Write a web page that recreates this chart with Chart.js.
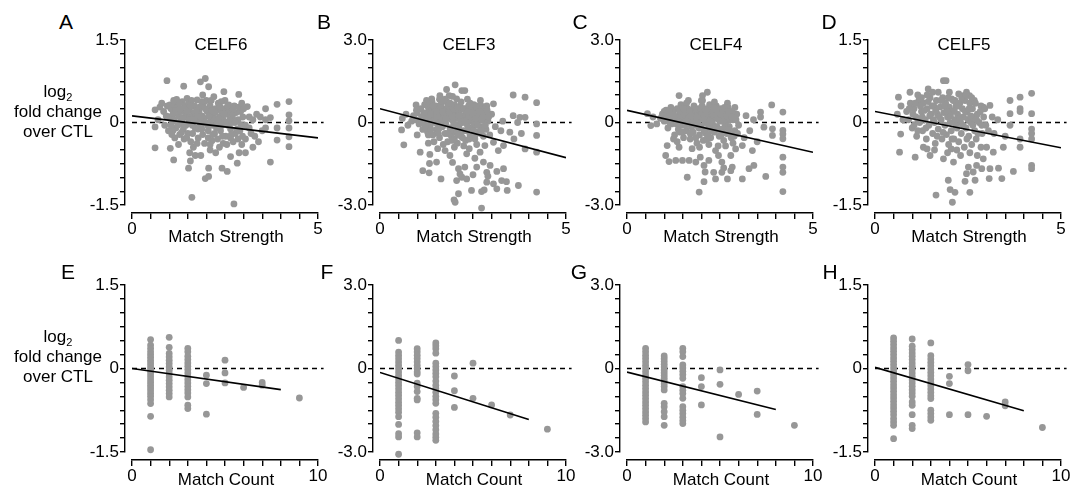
<!DOCTYPE html>
<html>
<head>
<meta charset="utf-8">
<script src="https://cdn.jsdelivr.net/npm/chart.js@4.4.1/dist/chart.umd.min.js"></script>
<style>
  body { margin: 0; background: #fff; font-family: "Liberation Sans", Arial, sans-serif; }
  #fig { position: relative; width: 1071px; height: 487px; overflow: hidden; background: #fff; }
  #fig canvas { position: absolute; }
  .txt { position: absolute; color: #000; white-space: nowrap; line-height: 1; transform: translate(-50%, -50%); }
  .ylab { position: absolute; color: #000; text-align: center; font-size: 17px; line-height: 20px; transform: translate(-50%, -50%); white-space: nowrap; }
  .ylab sub { font-size: 11px; line-height: 0; }
</style>
</head>
<body>
<div id="fig"></div>
<script>
const proteins = ['CELF6', 'CELF3', 'CELF4', 'CELF5'];
const topLetters = ['A', 'B', 'C', 'D'];
const bottomLetters = ['E', 'F', 'G', 'H'];
const yRanges = [1.5, 3.0, 3.0, 1.5];          // symmetric y limits per column
const strengthTicks = [0, 5];
const countTicks = [0, 10];

// log2 fold change vs match strength: [strength, log2FC]
const celf6Strength = [
  [0.94,0.76],[1.39,0.66],[1.84,0.74],[1.97,0.80],[2.06,0.65],[2.47,0.56],[2.87,0.51],[2.20,0.47],[1.48,0.44],[1.75,0.41],
  [3.10,0.29],[3.59,0.25],[3.90,0.33],[4.22,0.38],[4.22,0.14],[4.22,0.03],[4.22,-0.10],[4.22,-0.26],[4.22,-0.44],[3.90,-0.10],
  [3.90,-0.32],[3.59,0.05],[3.59,-0.10],[3.72,0.09],[0.62,0.23],[0.62,-0.08],[0.62,-0.46],[1.03,-0.47],[1.12,-0.68],[1.52,-0.83],
  [1.57,-0.70],[1.97,-1.02],[2.06,-0.98],[2.06,-0.83],[2.42,-0.83],[2.56,-0.89],[1.61,-1.36],[2.74,-1.48],[3.72,-0.72],[2.65,-0.62],
  [2.83,-0.74],[3.05,-0.55],[3.25,-0.45],[3.40,-0.35],[3.50,-0.15],[3.30,-0.25],[3.45,0.10],[3.20,-0.20],[3.15,0.10],[3.05,-0.30],
  [2.95,-0.40],[2.88,-0.55],[2.35,-0.45],[2.25,-0.55],[2.10,-0.50],[1.85,-0.60],[1.70,-0.60],[1.55,-0.55],[1.25,-0.40],[1.65,-0.45],
  [0.75,0.28],[0.70,0.05],[0.85,0.20],[1.00,0.10],[0.95,0.30],[0.88,-0.05],[0.98,-0.15],
  [1.05,0.25],[1.10,0.15],[1.08,0.02],[1.15,0.33],[1.18,-0.10],[1.15,-0.28],[1.22,0.28],[1.25,0.12],[1.30,0.02],[1.28,-0.22],
  [1.35,0.38],[1.32,0.20],[1.38,-0.12],[1.35,-0.02],[1.42,0.30],[1.45,0.10],[1.50,-0.20],[1.55,0.22],[1.58,-0.35],[1.45,-0.05],
  [1.60,0.02],[1.52,0.35],[1.65,0.15],[1.68,0.30],[1.70,-0.10],[1.72,0.05],[1.78,-0.28],[1.80,0.20],[1.75,0.10],[1.82,0.28],
  [1.85,-0.05],[1.88,0.12],[1.90,-0.22],[1.92,0.35],[1.95,-0.38],[1.98,0.00],[1.90,0.50],[2.02,0.20],[2.05,-0.15],[2.10,0.30],
  [2.12,0.05],[2.15,-0.33],[2.18,0.15],[2.15,-0.05],[2.22,-0.20],[2.25,0.25],[2.28,0.00],[2.30,-0.30],[2.32,0.35],[2.35,0.10],
  [2.38,-0.15],[2.40,0.20],[2.45,0.05],[2.50,0.25],[2.52,-0.25],[2.55,0.15],[2.58,-0.05],[2.45,-0.38],[2.50,0.40],[2.62,0.20],
  [2.65,-0.12],[2.70,0.10],[2.72,-0.35],[2.75,0.30],[2.78,-0.20],[2.68,0.00],[2.85,0.05],[2.90,-0.15],[2.92,0.20],[2.98,0.10],
  [3.05,-0.05],[3.25,0.05],[1.60,0.40],[2.00,0.40],[2.40,0.38],[1.20,0.42],[2.60,0.32],[1.40,-0.30],[1.75,-0.38],[2.05,-0.28],
  [2.65,-0.28],[2.85,-0.30],[1.10,-0.15],[1.55,0.10],[2.20,0.08],[2.80,0.18],
  [1.02,0.32],[1.07,-0.22],[1.13,0.05],[1.17,0.22],[1.23,-0.05],[1.27,0.35],[1.33,-0.18],[1.37,0.08],[1.43,0.18],[1.47,-0.28],
  [1.53,0.05],[1.57,0.30],[1.63,-0.20],[1.67,0.05],[1.73,0.22],[1.77,-0.12],[1.83,0.00],[1.87,0.38],[1.93,0.08],[1.97,0.25],
  [2.03,-0.05],[2.07,0.12],[2.13,0.40],[2.17,-0.22],[2.23,0.18],[2.27,-0.10],[2.33,0.05],[2.37,0.28],[2.43,-0.25],[2.47,0.15],
  [2.53,0.00],[2.57,0.30],[2.63,0.05],[2.67,-0.22],[2.73,0.18],[2.77,0.00],[2.83,-0.12],[2.87,0.28],[2.93,-0.05],[2.97,-0.25],
  [1.30,0.25],[1.62,-0.05],[1.88,-0.12],[2.15,0.22],[2.42,-0.05],[2.72,0.25],[1.48,0.20],[2.10,-0.40],[2.55,-0.40],[1.85,0.10],
  [0.92,0.12],[1.05,-0.05],[0.80,0.35],[3.00,0.25],[3.15,-0.10],[3.35,0.15],[2.95,0.35],[1.12,0.40]
];

const celf3Strength = [
  [2.02,1.37],[1.79,1.20],[2.20,1.16],[2.28,1.16],[1.61,0.98],[1.39,0.86],[1.86,0.98],[2.06,0.86],[3.58,1.00],[3.90,0.92],
  [4.21,0.72],[3.05,0.68],[3.58,0.25],[3.76,0.19],[3.90,0.19],[4.21,-0.05],[4.21,-0.47],[3.90,-0.96],[4.21,-1.08],[4.21,-2.53],
  [3.72,-2.29],[3.49,-0.35],[3.40,-2.15],[0.58,-0.27],[0.64,-0.81],[1.08,-1.08],[0.97,0.64],[1.15,-1.75],[1.32,-1.83],[1.33,-1.49],
  [1.52,-1.44],[1.64,-2.05],[1.34,-1.16],[1.99,-2.81],[2.02,-2.90],[2.11,-2.59],[2.06,-2.11],[2.20,-1.99],[2.33,-2.05],[2.46,-2.47],
  [2.73,-2.51],[2.80,-2.45],[2.73,-3.11],[2.87,-2.17],[3.05,-2.23],[3.14,-2.41],[3.27,-2.11],[3.42,-2.47],[2.60,-1.62],[2.55,-1.30],
  [2.87,-1.81],[2.96,-1.56],[3.14,-1.78],[3.32,-1.68],[2.78,-1.44],[2.28,-1.62],[2.11,-1.68],[2.15,-1.87],[1.75,-1.02],[1.88,-1.20],
  [2.33,-1.14],[2.69,-1.08],[3.18,-1.02],[3.32,-0.84],[3.05,-0.72],[2.82,-0.84],[3.25,-0.30],[3.10,-0.15],[3.00,0.30],[3.30,0.05],
  [2.95,-0.45],[0.60,0.15],[0.70,0.30],[0.75,-0.10],[0.85,0.05],[2.50,-1.90],[2.90,-1.95],[1.95,-1.45],[2.40,-0.95],[2.00,-0.90],
  [1.55,-0.95],[1.30,-0.75],[1.00,-0.45],[3.60,-0.60],[3.80,-0.40],[3.70,0.00],
  [0.90,0.25],[0.95,0.10],[1.00,0.35],[1.05,-0.05],[1.10,0.50],[1.12,0.20],[1.15,-0.25],[1.20,0.65],[1.22,0.05],[1.25,0.35],
  [1.28,-0.35],[1.30,0.55],[1.32,0.15],[1.35,-0.10],[1.38,0.40],[1.40,0.75],[1.42,-0.45],[1.45,0.25],[1.48,0.00],[1.50,0.60],
  [1.52,-0.25],[1.55,0.45],[1.58,0.10],[1.60,-0.55],[1.62,0.30],[1.65,0.70],[1.68,-0.15],[1.70,0.50],[1.72,0.05],[1.75,-0.40],
  [1.78,0.35],[1.80,0.75],[1.82,-0.70],[1.85,0.15],[1.88,-0.20],[1.90,0.55],[1.92,-0.50],[1.95,0.30],[1.98,-0.05],[2.00,0.65],
  [2.02,-0.35],[2.05,0.15],[2.08,-0.75],[2.10,0.45],[2.12,-0.15],[2.15,0.60],[2.18,-0.50],[2.20,0.25],[2.22,0.00],[2.25,-0.30],
  [2.28,0.50],[2.30,-0.65],[2.32,0.35],[2.35,-0.10],[2.38,0.60],[2.40,0.10],[2.42,-0.45],[2.45,0.45],[2.48,-0.20],[2.50,0.25],
  [2.52,0.65],[2.55,-0.60],[2.58,0.40],[2.60,0.05],[2.62,-0.35],[2.65,0.55],[2.68,0.20],[2.70,-0.15],[2.72,0.60],[2.75,0.35],
  [2.78,-0.50],[2.80,0.10],[2.82,0.50],[2.85,-0.25],[2.88,0.25],[1.45,-0.70],[1.70,-0.80],[2.25,-0.85],[2.60,-0.80],[1.95,0.95],
  [2.35,0.85],[2.70,0.80],[1.25,0.80],[1.55,-0.05],[2.05,0.40],[2.45,0.05],[1.85,0.45],
  [0.98,0.45],[1.08,0.10],[1.18,0.35],[1.22,-0.15],[1.33,0.68],[1.36,0.30],[1.42,0.05],[1.47,0.45],[1.53,0.20],[1.57,-0.40],
  [1.63,0.55],[1.67,0.10],[1.73,0.30],[1.77,-0.05],[1.83,0.60],[1.87,0.35],[1.93,0.10],[1.97,0.50],[2.03,0.25],[2.07,-0.10],
  [2.13,0.35],[2.17,0.05],[2.23,0.50],[2.27,0.20],[2.33,-0.30],[2.37,0.40],[2.43,0.20],[2.47,0.60],[2.53,-0.05],[2.57,0.15],
  [2.63,0.35],[2.67,0.60],[2.73,0.10],[2.77,0.45],[2.83,0.30],[2.87,0.60],[2.90,0.05],[1.60,-0.20],[1.90,-0.30],[2.15,-0.35],
  [2.40,-0.60],[2.70,-0.40],[1.30,-0.45],[1.75,0.85],[2.00,-0.60],
  [1.13,0.00],[1.27,0.15],[1.37,-0.25],[1.43,0.60],[1.52,0.40],[1.62,0.00],[1.68,0.40],[1.78,0.15],[1.82,-0.40],[1.88,0.70],
  [1.98,0.20],[2.08,0.55],[2.12,0.25],[2.18,0.75],[2.22,-0.55],[2.28,0.05],[2.38,0.25],[2.42,0.70],[2.48,0.35],[2.52,-0.30],
  [2.58,0.60],[2.62,-0.10],[2.68,0.40],[2.73,-0.30],[2.78,0.20],[2.83,-0.10],[2.88,0.45],[2.92,0.20],[1.60,0.85],[2.10,-0.45],
  [2.55,-0.45],[1.95,-0.65]
];

const celf4Strength = [
  [1.40,0.98],[2.03,0.98],[2.16,1.10],[2.03,0.80],[3.89,0.64],[4.19,0.38],[3.59,0.38],[3.59,0.20],[3.68,-0.17],[3.91,-0.23],
  [3.91,-0.47],[4.19,-0.29],[4.19,-0.42],[4.19,-0.59],[4.19,-1.26],[4.19,-1.62],[4.19,-1.81],[4.19,-2.51],[3.73,-1.96],[3.41,-1.56],
  [3.28,-1.68],[3.10,-2.05],[3.37,-1.02],[3.10,-0.84],[0.64,-0.11],[0.55,0.32],[1.08,-0.84],[1.04,-1.20],[1.13,-1.42],[1.31,-1.38],
  [1.40,-0.90],[1.49,-1.38],[1.67,-1.38],[1.62,-1.99],[1.94,-2.53],[2.07,-2.15],[2.38,-2.05],[2.70,-2.05],[2.33,-1.81],[2.55,-1.81],
  [2.79,-1.75],[2.83,-1.62],[2.07,-1.56],[2.20,-1.38],[1.85,-1.44],[1.97,-1.26],[2.55,-1.44],[2.46,-1.20],[2.79,-1.20],[2.92,-0.96],
  [2.38,-1.02],[3.20,0.25],[3.30,-0.30],[3.40,0.10],[3.15,-0.55],[3.50,-0.70],[2.10,-1.80],[2.60,-1.65],[1.75,-0.95],[0.70,0.20],
  [0.80,-0.05],[1.00,0.40],
  [0.90,0.15],[0.95,0.30],[1.00,0.05],[1.05,0.45],[1.10,-0.20],[1.12,0.20],[1.18,0.55],[1.20,-0.05],[1.25,0.35],[1.28,-0.45],
  [1.30,0.10],[1.35,0.50],[1.38,-0.25],[1.40,0.25],[1.45,0.65],[1.48,-0.10],[1.50,0.40],[1.52,-0.55],[1.55,0.15],[1.58,0.55],
  [1.60,-0.30],[1.62,0.30],[1.65,0.80],[1.68,0.00],[1.70,-0.60],[1.72,0.45],[1.75,0.15],[1.78,-0.35],[1.80,0.60],[1.82,-0.10],
  [1.85,0.30],[1.88,-0.75],[1.90,0.10],[1.92,0.50],[1.95,-0.45],[1.98,0.25],[2.00,-0.15],[2.02,0.60],[2.05,-0.65],[2.08,0.35],
  [2.10,0.00],[2.12,-0.40],[2.15,0.50],[2.18,0.15],[2.20,-0.20],[2.22,0.65],[2.25,-0.55],[2.28,0.30],[2.30,-0.05],[2.32,0.45],
  [2.35,-0.35],[2.38,0.15],[2.40,0.60],[2.42,-0.15],[2.45,0.35],[2.48,-0.50],[2.50,0.05],[2.52,0.50],[2.55,-0.25],[2.58,0.25],
  [2.60,-0.65],[2.62,0.40],[2.65,0.00],[2.68,-0.40],[2.70,0.20],[2.72,0.55],[2.75,-0.15],[2.78,0.30],[2.80,-0.55],[2.85,0.10],
  [2.90,-0.30],[2.95,0.30],[3.00,-0.10],[1.35,-0.70],[1.95,-0.90],[2.45,-0.85],[2.85,-0.75],[1.60,0.70],[2.35,0.75],[2.90,0.55],
  [0.98,0.25],[1.08,0.30],[1.15,0.00],[1.22,0.40],[1.28,0.15],[1.33,-0.05],[1.42,0.40],[1.47,0.05],[1.53,0.30],[1.57,-0.10],
  [1.63,0.50],[1.67,0.20],[1.73,-0.15],[1.77,0.40],[1.83,0.10],[1.87,0.45],[1.93,-0.20],[1.97,0.40],[2.03,0.15],[2.07,-0.30],
  [2.13,0.30],[2.17,-0.05],[2.23,0.40],[2.27,0.05],[2.33,0.25],[2.37,-0.15],[2.43,0.45],[2.47,0.10],[2.53,-0.45],[2.57,0.40],
  [2.63,-0.15],[2.67,0.50],[2.73,-0.25],[2.77,0.10],[2.83,0.40],[2.88,-0.50],[1.50,-0.35],[1.85,-0.55],[2.20,-0.80],[2.65,-0.85],
  [1.25,-0.60],[2.00,0.80],[2.70,0.70],
  [1.03,0.15],[1.13,0.40],[1.23,0.20],[1.37,0.05],[1.43,-0.35],[1.52,0.50],[1.58,0.05],[1.68,0.40],[1.73,0.25],[1.78,0.00],
  [1.88,0.20],[1.92,-0.05],[2.02,0.35],[2.08,0.10],[2.12,0.45],[2.18,-0.45],[2.23,0.05],[2.28,-0.30],[2.33,0.55],[2.42,0.25],
  [2.48,-0.25],[2.52,0.30],[2.58,0.05],[2.62,0.55],[2.68,0.25],[2.73,0.40],[2.78,-0.40],[2.82,0.20],[2.93,0.10],[2.97,-0.40],
  [1.70,-0.40],[2.15,-0.60]
];

const celf5Strength = [
  [1.84,0.76],[1.91,0.76],[1.43,0.61],[0.94,0.55],[0.63,0.46],[2.46,0.55],[2.54,0.49],[2.37,0.49],[2.06,0.43],[2.15,0.40],
  [2.91,0.28],[3.09,0.31],[3.63,0.40],[3.90,0.46],[4.21,0.53],[3.90,0.25],[3.90,0.20],[4.21,0.16],[3.63,0.16],[3.63,-0.05],
  [3.90,-0.30],[3.90,-0.45],[4.21,-0.12],[4.21,-0.20],[4.21,-0.30],[4.21,-0.78],[4.21,-0.84],[3.72,-0.89],[3.32,-0.83],[3.41,-1.02],
  [3.45,-0.45],[3.18,-0.54],[1.97,-1.05],[2.42,-1.07],[2.55,-1.27],[2.02,-1.22],[2.15,-1.27],[2.08,-1.45],[1.64,-1.32],[2.69,-1.05],
  [2.64,-0.90],[2.73,-0.78],[2.87,-0.84],[2.91,-0.66],[3.07,-1.02],[3.09,-0.84],[2.46,-0.93],[2.51,-0.81],[2.11,-0.72],[1.84,-0.66],
  [1.48,-0.60],[1.08,-0.63],[0.69,-0.21],[0.66,-0.54],[0.60,0.15],[0.70,0.30],[0.75,0.05],[3.20,-0.20],[3.30,0.05],[3.50,-0.25],
  [3.15,0.10],[2.75,-0.60],[2.30,-0.60],[1.95,-0.55],[1.30,-0.45],[3.00,-0.45],
  [0.85,0.20],[0.90,0.05],[0.95,0.35],[1.00,-0.10],[1.05,0.25],[1.10,0.10],[1.12,-0.25],[1.18,0.40],[1.20,0.00],[1.25,0.20],
  [1.28,-0.15],[1.30,0.35],[1.35,0.05],[1.38,-0.30],[1.40,0.25],[1.45,-0.05],[1.48,0.45],[1.50,0.15],[1.55,-0.20],[1.58,0.30],
  [1.60,0.00],[1.62,-0.38],[1.65,0.40],[1.68,0.15],[1.70,-0.12],[1.75,0.28],[1.78,0.05],[1.80,-0.30],[1.82,0.45],[1.85,0.18],
  [1.88,-0.05],[1.90,0.35],[1.92,-0.22],[1.95,0.10],[1.98,-0.40],[2.00,0.28],[2.02,0.00],[2.05,-0.15],[2.08,0.20],[2.10,0.40],
  [2.12,-0.30],[2.15,0.05],[2.18,0.30],[2.20,-0.10],[2.22,0.15],[2.25,-0.35],[2.28,0.35],[2.30,0.00],[2.32,-0.20],[2.35,0.25],
  [2.38,0.10],[2.40,-0.45],[2.42,0.40],[2.45,-0.10],[2.48,0.20],[2.50,0.05],[2.52,-0.25],[2.55,0.35],[2.58,0.00],[2.60,-0.40],
  [2.62,0.25],[2.65,0.10],[2.68,-0.15],[2.70,0.35],[2.72,-0.30],[2.75,0.15],[2.80,0.00],[2.85,0.30],[2.88,-0.20],[2.92,0.10],
  [2.98,-0.05],[1.15,0.50],[1.55,0.55],[2.25,0.52],[1.40,-0.48],[2.05,-0.48],[2.85,-0.45],
  [0.92,0.25],[1.02,0.15],[1.08,0.35],[1.15,0.05],[1.22,0.30],[1.27,0.10],[1.33,0.22],[1.37,-0.10],[1.43,0.38],[1.47,0.12],
  [1.53,0.30],[1.57,0.05],[1.63,0.22],[1.67,-0.25],[1.73,0.10],[1.77,0.40],[1.83,-0.18],[1.87,0.30],[1.93,0.20],[1.97,0.45],
  [2.03,0.12],[2.07,-0.30],[2.13,0.22],[2.17,-0.05],[2.23,0.30],[2.27,0.08],[2.33,0.45],[2.37,-0.05],[2.43,0.20],[2.47,-0.30],
  [2.53,0.25],[2.57,0.12],[2.63,-0.05],[2.67,0.40],[2.73,0.05],[2.77,-0.20],[2.83,0.20],[2.87,-0.05],[1.40,0.50],[1.70,0.55],
  [2.00,0.55],[1.60,-0.50],[2.20,-0.50],[2.55,-0.55],
  [1.05,-0.05],[1.25,0.45],[2.45,0.50],[2.60,0.45],[2.95,0.25],[3.05,-0.15],[1.15,-0.15]
];

// log2 fold change grouped by match count: [count, [log2FC, ...]]
const celf6Count = [
  [1, [0.52,0.42,0.36,0.30,0.25,0.20,0.15,0.10,0.05,0.00,-0.05,-0.10,-0.15,-0.20,-0.25,-0.30,-0.35,-0.40,-0.45,-0.50,-0.56,-0.63,-0.86,-1.46]],
  [2, [0.56,0.38,0.27,0.21,0.15,0.09,0.03,-0.03,-0.09,-0.15,-0.21,-0.27,-0.33,-0.39,-0.45,-0.51]],
  [3, [0.36,0.30,0.22,0.16,0.10,0.04,-0.02,-0.08,-0.14,-0.20,-0.26,-0.32,-0.38,-0.44,-0.51,-0.66,-0.72]],
  [4, [-0.12,-0.27,-0.82]],
  [5, [0.15,-0.08,-0.26]],
  [6, [-0.34]],
  [7, [-0.25,-0.30]],
  [9, [-0.53]]
];
const celf3Count = [
  [1, [1.01,0.59,0.47,0.35,0.23,0.11,-0.01,-0.13,-0.25,-0.37,-0.49,-0.61,-0.73,-0.85,-0.97,-1.09,-1.21,-1.33,-1.45,-1.57,-1.73,-2.01,-2.34,-2.46,-3.08]],
  [2, [0.71,0.60,0.48,0.36,0.24,0.12,0.00,-0.12,-0.20,-0.53,-0.65,-0.83,-1.07,-1.13,-2.31,-2.46]],
  [3, [0.92,0.82,0.71,0.55,0.19,0.07,-0.05,-0.18,-0.30,-0.45,-0.60,-0.72,-0.85,-1.00,-1.12,-1.25,-1.61,-1.75,-1.90,-2.05,-2.20,-2.35,-2.47,-2.58]],
  [4, [-0.27,-0.80,-1.40]],
  [5, [0.19,-1.07]],
  [6, [-1.31]],
  [7, [-1.67]],
  [9, [-2.18]]
];
const celf4Count = [
  [1, [0.72,0.60,0.48,0.36,0.24,0.12,0.00,-0.12,-0.24,-0.36,-0.48,-0.60,-0.72,-0.84,-0.96,-1.08,-1.20,-1.32,-1.44,-1.56,-1.68,-1.80,-1.92]],
  [2, [0.45,0.35,0.25,0.15,0.05,-0.05,-0.15,-0.25,-0.35,-0.45,-0.55,-0.65,-0.77,-1.25,-1.37,-1.55,-1.73,-2.04]],
  [3, [0.72,0.60,0.43,0.13,0.02,-0.10,-0.22,-0.35,-0.65,-0.78,-0.90,-1.07,-1.37,-1.50,-1.62,-1.75,-1.87,-1.98]],
  [4, [-0.33,-0.65,-1.31]],
  [5, [-0.05,-0.57,-2.46]],
  [6, [-0.93]],
  [7, [-0.81,-1.65]],
  [9, [-2.04]]
];
const celf5Count = [
  [1, [0.55,0.49,0.43,0.37,0.31,0.25,0.19,0.13,0.07,0.01,-0.05,-0.11,-0.17,-0.23,-0.29,-0.35,-0.41,-0.47,-0.53,-0.59,-0.65,-0.71,-0.77,-0.83,-0.90,-0.96,-1.02,-1.26]],
  [2, [0.53,0.40,0.34,0.28,0.22,0.16,0.10,0.04,-0.02,-0.08,-0.14,-0.20,-0.26,-0.32,-0.38,-0.44,-0.50,-0.60,-0.66,-0.83,-1.02,-1.08]],
  [3, [0.46,0.23,0.17,0.11,0.05,-0.01,-0.07,-0.13,-0.19,-0.25,-0.31,-0.37,-0.43,-0.49,-0.54,-0.75,-0.81,-0.87,-0.93]],
  [4, [-0.14,-0.27,-0.83]],
  [5, [0.07,-0.04,-0.83]],
  [6, [-0.86]],
  [7, [-0.60,-0.67]],
  [9, [-1.06]]
];

// regression lines: [y at start, y at end]
const strengthFits = [[0.12,-0.28],[0.50,-1.28],[0.44,-1.08],[0.20,-0.46]];
const countFits = [[0.00,-0.38],[-0.14,-1.83],[-0.13,-1.47],[0.02,-0.76]];

Chart.defaults.font.family = "'Liberation Sans', Arial, sans-serif";
Chart.defaults.font.size = 17;
Chart.defaults.color = '#000';

const fig = document.getElementById('fig');
const AXIS_X = [125, 373, 620, 868];
const AREA_W = 186;
const rows = [
  { top: 40, h: 165, xMax: 5, step: 0.5, fitEnd: 5, ends: strengthTicks, label: 'Match Strength',
    letters: topLetters, letterY: 21, titleY: 44, xTitleY: 236, ylabY: 112 },
  { top: 285, h: 167, xMax: 10, step: 1, fitEnd: 8, ends: countTicks, label: 'Match Count',
    letters: bottomLetters, letterY: 271, titleY: null, xTitleY: 479, ylabY: 357 }
];
const letterX = [[66, 324, 580, 829], [68, 327, 579, 830]];

function addText(html, x, y, size, cls) {
  const d = document.createElement('div');
  d.className = cls || 'txt';
  d.innerHTML = html;
  d.style.left = x + 'px';
  d.style.top = y + 'px';
  if (size) d.style.fontSize = size + 'px';
  fig.appendChild(d);
}

// invisible axis that only reserves space, so the real axes sit apart from the plot
const gap = size => ({
  type: 'linear', weight: 0, display: true,
  grid: { display: false }, border: { display: false }, ticks: { display: false },
  afterFit: s => { if (size.w) s.width = size.w; else s.height = size.h; }
});

function makePanel(ri, col, points, fit) {
  const r = rows[ri], ax = AXIS_X[col], yMax = yRanges[col];
  const cv = document.createElement('canvas');
  cv.width = 45 + 7 + AREA_W + 14;
  cv.height = r.h + 53;
  cv.style.left = (ax - 45) + 'px';
  cv.style.top = (r.top - 15) + 'px';
  fig.appendChild(cv);

  new Chart(cv, {
    type: 'scatter',
    data: {
      datasets: [
        { data: [{ x: 0, y: fit[0] }, { x: r.fitEnd, y: fit[1] }], showLine: true,
          borderColor: '#000', borderWidth: 1.6, pointRadius: 0, order: 0 },
        { data: points.map(p => ({ x: p[0], y: p[1] })), pointRadius: 3.4,
          backgroundColor: '#979797', borderWidth: 0, clip: false, order: 1 },
        { data: [{ x: 0, y: 0 }, { x: r.xMax * 1.03, y: 0 }], showLine: true,
          borderColor: '#000', borderWidth: 1.4, borderDash: [5, 4], pointRadius: 0, clip: false, order: 2 }
      ]
    },
    options: {
      responsive: false,
      animation: false,
      events: [],
      layout: { padding: { top: 15, right: 14, bottom: 0, left: 0 } },
      plugins: { legend: { display: false }, tooltip: { enabled: false } },
      scales: {
        x: {
          type: 'linear', position: 'bottom', weight: 10, min: 0, max: r.xMax,
          afterFit: s => { s.height = 30; },
          border: { color: '#000', width: 1.4 },
          grid: { drawOnChartArea: false, color: '#000', lineWidth: 1.4, tickLength: 6 },
          ticks: { stepSize: r.step, autoSkip: false, maxRotation: 0, padding: 0,
                   callback: v => r.ends.includes(v) ? String(v) : '' }
        },
        xGap: Object.assign(gap({ h: 8 }), { position: 'bottom' }),
        y: {
          type: 'linear', position: 'left', weight: 10, min: -yMax, max: yMax,
          afterFit: s => { s.width = 45; },
          border: { color: '#000', width: 1.4 },
          grid: { drawOnChartArea: false, color: '#000', lineWidth: 1.4, tickLength: 5 },
          ticks: { stepSize: yMax / 6, autoSkip: false, padding: 1,
                   callback: v => v === 0 ? '0' : (Math.abs(v) === yMax ? v.toFixed(1) : '') }
        },
        yGap: Object.assign(gap({ w: 7 }), { position: 'left' })
      }
    }
  });

  const mid = ax + 7 + AREA_W / 2;
  addText(r.letters[col], letterX[ri][col], r.letterY, 21);
  if (r.titleY) addText(proteins[col], mid - 4, r.titleY, 17);
  addText(r.label, mid + 1, r.xTitleY, 17);
  if (col === 0) addText('log<sub>2</sub><br>fold change<br>over CTL', 58, r.ylabY, null, 'ylab');
}

const flatten = groups => groups.flatMap(([n, ys]) => ys.map(y => [n, y]));

[celf6Strength, celf3Strength, celf4Strength, celf5Strength]
  .forEach((pts, i) => makePanel(0, i, pts, strengthFits[i]));
[celf6Count, celf3Count, celf4Count, celf5Count]
  .forEach((g, i) => makePanel(1, i, flatten(g), countFits[i]));
</script>
</body>
</html>
